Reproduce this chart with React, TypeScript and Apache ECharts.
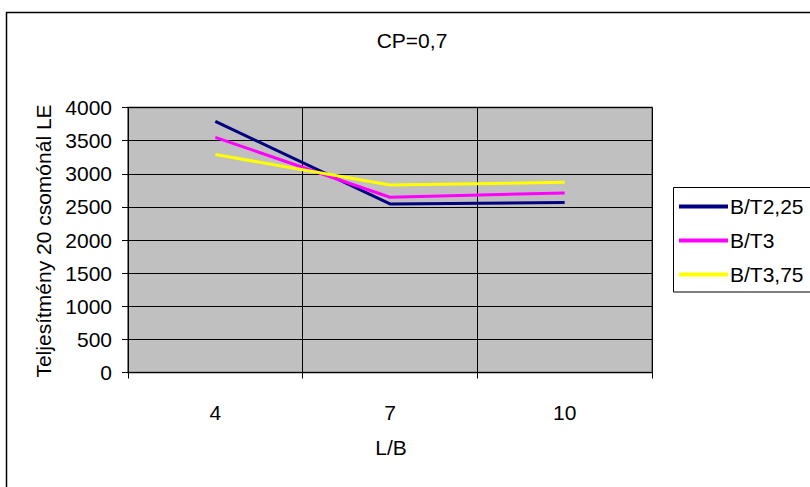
import React, { useEffect, useRef } from "react";
import * as echarts from "echarts";

const categories = ["4", "7", "10"];
const seriesNames = ["B/T2,25", "B/T3", "B/T3,75"];
const bt225 = [3790, 2545, 2565];
const bt3 = [3550, 2645, 2710];
const bt375 = [3290, 2830, 2870];
const yTicks = { min: 0, max: 4000, interval: 500 };

const FONT = "'Liberation Sans', Arial, sans-serif";
const FS = 21;

export default function App() {
  const ref = useRef<HTMLDivElement>(null);
  useEffect(() => {
    if (!ref.current) return;
    const chart = echarts.init(ref.current, undefined, { renderer: "svg" });
    const colors = ["#000080", "#FF00FF", "#FFFF00"];
    const data = [bt225, bt3, bt375];
    chart.setOption({
      animation: false,
      backgroundColor: "#ffffff",
      textStyle: { fontFamily: FONT },
      grid: {
        left: 128,
        top: 107.5,
        width: 524,
        height: 265,
        show: true,
        backgroundColor: "#C0C0C0",
        borderColor: "#808080",
        borderWidth: 2,
      },
      legend: {
        left: 679,
        top: 196,
        padding: 0,
        orient: "vertical",
        itemWidth: 49,
        itemHeight: 4,
        itemGap: 13,
        icon: "rect",
        textStyle: { fontSize: FS, color: "#000", fontFamily: FONT, padding: [0, 0, 0, -3] },
        data: seriesNames,
      },
      xAxis: {
        type: "category",
        data: categories,
        boundaryGap: true,
        axisLine: { show: true, lineStyle: { color: "#000", width: 1 } },
        axisTick: { show: true, length: 6, lineStyle: { color: "#000" } },
        axisLabel: { fontSize: FS, color: "#000", margin: 29, fontFamily: FONT },
        splitLine: { show: true, lineStyle: { color: "#000", width: 1 } },
      },
      yAxis: {
        type: "value",
        min: yTicks.min,
        max: yTicks.max,
        interval: yTicks.interval,
        axisLine: { show: true, lineStyle: { color: "#000", width: 1 } },
        axisTick: { show: true, length: 6, lineStyle: { color: "#000" } },
        axisLabel: {
          fontSize: FS,
          color: "#000",
          margin: 16,
          fontFamily: FONT,
          formatter: (v: number) => String(v),
        },
        splitLine: { show: true, lineStyle: { color: "#000", width: 1 } },
      },
      series: seriesNames.map((name, i) => ({
        name,
        type: "line",
        data: data[i],
        symbol: "none",
        color: colors[i],
        lineStyle: { color: colors[i], width: 3 },
      })),
      graphic: [
        {
          type: "rect",
          shape: { x: 6.5, y: 12.5, width: 1000, height: 1000 },
          style: { fill: "none", stroke: "#000", lineWidth: 1.5 },
          z: -10,
          silent: true,
        },
        {
          type: "rect",
          shape: { x: 673.5, y: 187.5, width: 200, height: 104.5 },
          style: { fill: "#fff", stroke: "#000", lineWidth: 1 },
          z: -5,
        },
        {
          type: "text",
          x: 412,
          y: 40,
          style: { text: "CP=0,7", font: `${FS}px ${FONT}`, fill: "#000", textAlign: "center", textVerticalAlign: "middle" },
        },
        {
          type: "text",
          x: 391,
          y: 447,
          style: { text: "L/B", font: `${FS}px ${FONT}`, fill: "#000", textAlign: "center", textVerticalAlign: "middle" },
        },
        {
          type: "text",
          x: 43,
          y: 241,
          rotation: Math.PI / 2,
          style: {
            text: "Teljesítmény 20 csomónál LE",
            font: `${FS}px ${FONT}`,
            fill: "#000",
            textAlign: "center",
            textVerticalAlign: "middle",
          },
        },
      ],
    });
    return () => chart.dispose();
  }, []);
  return (
    <div
      ref={ref}
      style={{ position: "fixed", left: 0, top: 0, width: 810, height: 487 }}
    />
  );
}
